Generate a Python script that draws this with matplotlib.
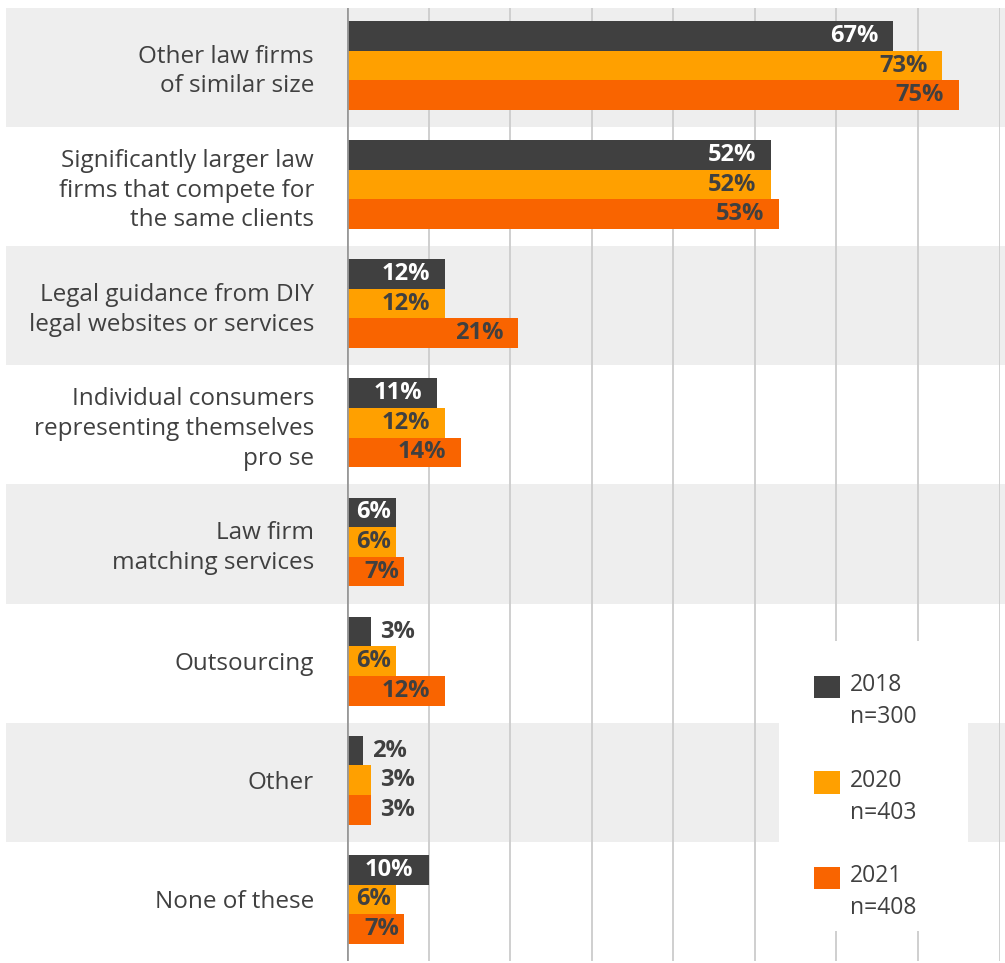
import matplotlib
matplotlib.use("Agg")
import matplotlib.pyplot as plt
import matplotlib.transforms as mtransforms
from matplotlib.patches import Rectangle, Patch
from matplotlib.legend_handler import HandlerPatch
import numpy as np

categories = [
    "Other law firms\nof similar size",
    "Significantly larger law\nfirms that compete for\nthe same clients",
    "Legal guidance from DIY\nlegal websites or services",
    "Individual consumers\nrepresenting themselves\npro se",
    "Law firm\nmatching services",
    "Outsourcing",
    "Other",
    "None of these",
]
series_names = ["2018\nn=300", "2020\nn=403", "2021\nn=408"]
v2018 = [67, 52, 12, 11, 6, 3, 2, 10]
v2020 = [73, 52, 12, 12, 6, 6, 3, 6]
v2021 = [75, 53, 21, 14, 7, 12, 3, 7]
colors = ["#404040", "#FFA000", "#F96400"]
text_dark = "#404040"

FONT = "Open Sans"
plt.rcParams["font.family"] = [FONT, "DejaVu Sans"]

W, H = 1005, 963
fig = plt.figure(figsize=(W / 100, H / 100), dpi=100)
left, right = 347 / W, 999.5 / W
top, bottom = 8 / H, 961 / H
ax = fig.add_axes([left, 1 - bottom, right - left, bottom - top])
ax.set_facecolor("none")

n = len(categories)
ax.set_xlim(0, 80)
ax.set_ylim(n, 0)

# alternating bands across the whole width
trans = mtransforms.blended_transform_factory(fig.transFigure, ax.transData)
for i in range(n):
    if i % 2 == 0:
        ax.add_patch(Rectangle((6 / W, i), 1 - 6 / W, 1, transform=trans,
                               facecolor="#EEEEEE", edgecolor="none",
                               clip_on=False, zorder=0))

# gridlines
for gx in range(10, 81, 10):
    ax.axvline(gx, color="#CCCCCC", lw=1.3, zorder=1)
ax.axvline(0, color="#999999", lw=2.0, zorder=3)

centers = np.arange(n) + 0.483
bh = 0.25
offs = [-0.248, 0.0, 0.248]
all_vals = [v2018, v2020, v2021]
px2pt = 72 / 100
LFS = 17
for s, (vals, col) in enumerate(zip(all_vals, colors)):
    ys = centers + offs[s]
    ax.barh(ys, vals, height=bh, color=col, zorder=2, linewidth=0)
    for y, v in zip(ys, vals):
        lbl = f"{v}%"
        if v >= 10:
            ax.annotate(lbl, (v, y), xytext=(-15 * px2pt, 0), textcoords="offset points",
                        ha="right", va="center", fontsize=LFS, fontweight="bold",
                        color="white" if s == 0 else text_dark, zorder=4)
        elif v >= 5:
            ax.annotate(lbl, (v, y), xytext=(-5 * px2pt, 0), textcoords="offset points",
                        ha="right", va="center", fontsize=LFS, fontweight="bold",
                        color="white" if s == 0 else text_dark, zorder=4)
        else:
            ax.annotate(lbl, (v, y), xytext=(9 * px2pt, 0), textcoords="offset points",
                        ha="left", va="center", fontsize=LFS, fontweight="bold",
                        color=text_dark, zorder=4)

ax.set_yticks(centers)
ax.set_yticklabels(categories, fontsize=17.5, color=text_dark, linespacing=1.32)
ax.tick_params(axis="y", length=0, pad=33 * px2pt)
ax.set_xticks([])
for sp in ax.spines.values():
    sp.set_visible(False)

# white legend panel
ax.add_patch(Rectangle((779 / W, 1 - 931 / H), (968 - 779) / W, (931 - 641) / H,
                       transform=fig.transFigure, facecolor="white",
                       edgecolor="none", zorder=5, clip_on=False))


def top_square(legend, orig_handle, xdescent, ydescent, width, height, fontsize):
    return Rectangle((-xdescent, -ydescent + 11), width, height)


handles = [Patch(facecolor=c, edgecolor="none") for c in colors]
leg = ax.legend(handles, series_names, loc="upper left",
                bbox_to_anchor=(814 / W, 1 - 673 / H), bbox_transform=fig.transFigure,
                fontsize=16.5, frameon=False, handlelength=1.13,
                handleheight=1.13, handletextpad=0.45, labelspacing=1.72,
                borderpad=0, borderaxespad=0,
                handler_map={Patch: HandlerPatch(patch_func=top_square)})
for t in leg.get_texts():
    t.set_color(text_dark)
    t.set_linespacing(1.45)
leg.set_zorder(10)

fig.savefig("out.png", dpi=100)
